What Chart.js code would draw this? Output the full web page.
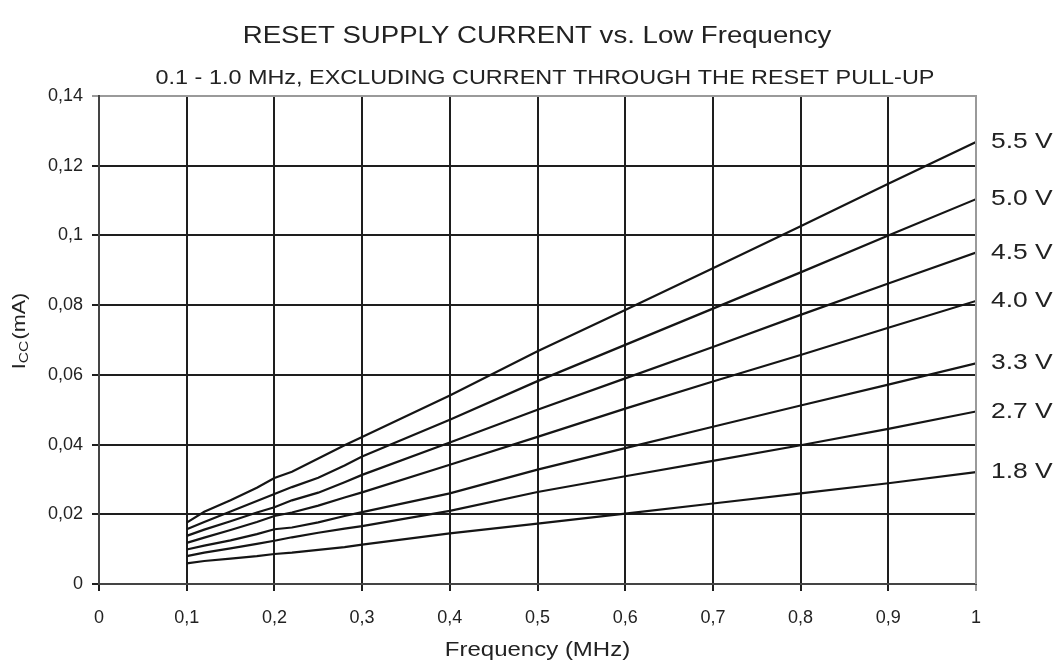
<!DOCTYPE html>
<html>
<head>
<meta charset="utf-8">
<title>RESET SUPPLY CURRENT vs. Low Frequency</title>
<script src="https://cdn.jsdelivr.net/npm/chart.js@4/dist/chart.umd.min.js"></script>
<style>
  body{margin:0;background:#fff;}
  #wrap{width:1060px;height:662px;}
</style>
</head>
<body>
<div id="wrap"><canvas id="chart"></canvas></div>
<script>
// ==========================
// DATA
// ==========================
const freq = [0.1,0.12,0.15,0.18,0.2,0.22,0.25,0.28,0.3,0.4,0.5,0.6,0.7,0.8,0.9,1.0];

const v55 = [0.0176,0.0207,0.0240,0.0276,0.0304,0.0322,0.0360,0.0398,0.0422,0.0541,0.0668,0.0786,0.0906,0.1026,0.1148,0.1268];
const v50 = [0.0157,0.0178,0.0208,0.0238,0.0258,0.0278,0.0305,0.0340,0.0366,0.0471,0.0582,0.0686,0.0790,0.0894,0.1000,0.1104];
const v45 = [0.0138,0.0156,0.0180,0.0205,0.0220,0.0240,0.0262,0.0292,0.0313,0.0406,0.0500,0.0590,0.0680,0.0772,0.0862,0.0951];
const v40 = [0.0118,0.0133,0.0155,0.0178,0.0195,0.0205,0.0225,0.0248,0.0263,0.0342,0.0422,0.0503,0.0581,0.0657,0.0735,0.0812];
const v33 = [0.0099,0.0110,0.0125,0.0143,0.0157,0.0162,0.0177,0.0195,0.0206,0.0260,0.0328,0.0390,0.0451,0.0512,0.0572,0.0633];
const v27 = [0.0080,0.0090,0.0102,0.0115,0.0124,0.0134,0.0147,0.0159,0.0166,0.0210,0.0264,0.0309,0.0353,0.0398,0.0445,0.0495];
const v18 = [0.0059,0.0066,0.0073,0.0080,0.0086,0.0090,0.0098,0.0106,0.0113,0.0145,0.0173,0.0202,0.0231,0.0260,0.0289,0.0321];

const seriesLabels = ["5.5 V","5.0 V","4.5 V","4.0 V","3.3 V","2.7 V","1.8 V"];
const seriesValues = [v55,v50,v45,v40,v33,v27,v18];

const titleText = "RESET SUPPLY CURRENT vs. Low Frequency";
const subtitleText = "0.1 - 1.0 MHz, EXCLUDING CURRENT THROUGH THE RESET PULL-UP";
const xTitleText = "Frequency (MHz)";

const FONT = "'Liberation Sans', Arial, sans-serif";
const INK = "#222";
const STRETCH = 1.2;   // the original lettering is a bit wide

// comma decimals like the original sheet
function commaTick(v){
  return String(Number(v.toFixed(2))).replace(".", ",");
}

// text drawn a bit wider than the font
function wideText(ctx, txt, x, y, size, align){
  ctx.save();
  ctx.font = size + "px " + FONT;
  ctx.textAlign = align;
  ctx.textBaseline = "middle";
  ctx.translate(x, y);
  ctx.scale(STRETCH, 1);
  ctx.fillText(txt, 0, 0);
  ctx.restore();
}

// ==========================
// PLUGIN: titles, right side labels, y title with subscript
// ==========================
const extraText = {
  id:"extraText",
  afterDraw(chart){
    const ctx = chart.ctx;
    const y = chart.scales.y;
    const x = chart.scales.x;
    const area = chart.chartArea;

    ctx.save();
    ctx.fillStyle = INK;

    // titles
    wideText(ctx, titleText, 537, 37, 23, "center");
    wideText(ctx, subtitleText, 545, 79, 19.5, "center");
    wideText(ctx, xTitleText, (x.left + x.right)/2, 650, 20, "center");

    // voltage labels at the end of each curve
    chart.data.datasets.forEach(ds=>{
      const last = ds.data[ds.data.length-1];
      wideText(ctx, ds.label, area.right + 15, y.getPixelForValue(last.y), 22, "left");
    });

    // y axis title: I_CC (mA)
    ctx.translate(20, 331);
    ctx.rotate(-Math.PI/2);
    ctx.scale(STRETCH, 1);
    ctx.textBaseline = "middle";
    ctx.textAlign = "left";
    ctx.font = "18px " + FONT;
    const wI = ctx.measureText("I").width;
    const wRest = ctx.measureText("(mA)").width;
    ctx.font = "13px " + FONT;
    const wCC = ctx.measureText("CC").width;
    let px = -(wI + wCC + 1 + wRest)/2;
    ctx.font = "18px " + FONT;
    ctx.fillText("I", px, 0); px += wI;
    ctx.font = "13px " + FONT;
    ctx.fillText("CC", px, 4); px += wCC + 1;
    ctx.font = "18px " + FONT;
    ctx.fillText("(mA)", px, 0);
    ctx.restore();
  }
};

// right border of the frame is grey like the top one
const rightFrame = {
  id:"rightFrame",
  afterDatasetsDraw(c){
    const a = c.chartArea, ctx = c.ctx;
    ctx.save();
    ctx.strokeStyle = "#9a9a9a";
    ctx.lineWidth = 2;
    ctx.beginPath();
    ctx.moveTo(a.right, a.top - 1);
    ctx.lineTo(a.right, a.bottom);
    ctx.stroke();
    ctx.restore();
  }
};

// ==========================
// CHART
// ==========================
const chart = new Chart(document.getElementById("chart"),{
  type:"line",
  data:{
    datasets: seriesLabels.map((lbl,i)=>({
      label: lbl,
      data: freq.map((f,j)=>({x:f, y:seriesValues[i][j]})),
      borderColor:"#151515",
      borderWidth:2.2,
      pointRadius:0,
      tension:0,
      fill:false
    }))
  },
  options:{
    responsive:true,
    maintainAspectRatio:false,
    animation:false,
    layout:{padding:{left:0,right:84,top:96,bottom:0}},
    plugins:{
      legend:{display:false},
      tooltip:{enabled:false}
    },
    scales:{
      x:{
        type:"linear",
        min:0,max:1,
        ticks:{
          stepSize:0.1,
          color:INK,
          padding:16,
          maxRotation:0,
          font:{family:FONT,size:18},
          callback:commaTick
        },
        grid:{
          lineWidth:2,
          tickLength:7,
          color:c=>c.tick && c.tick.value>=0.999 ? "#9a9a9a" : "#1e1e1e"
        },
        border:{color:"#444",width:2},
        afterFit(scale){ scale.height = 78; }
      },
      y:{
        min:0,max:0.14,
        ticks:{
          stepSize:0.02,
          color:INK,
          padding:9,
          font:{family:FONT,size:18},
          callback:commaTick
        },
        grid:{
          lineWidth:2,
          tickLength:7,
          color:c=>c.tick && c.tick.value>=0.1399 ? "#9a9a9a" : "#1e1e1e"
        },
        border:{color:"#444",width:2},
        afterFit(scale){ scale.width = 99; }
      }
    }
  },
  plugins:[rightFrame, extraText]
});
</script>
</body>
</html>
